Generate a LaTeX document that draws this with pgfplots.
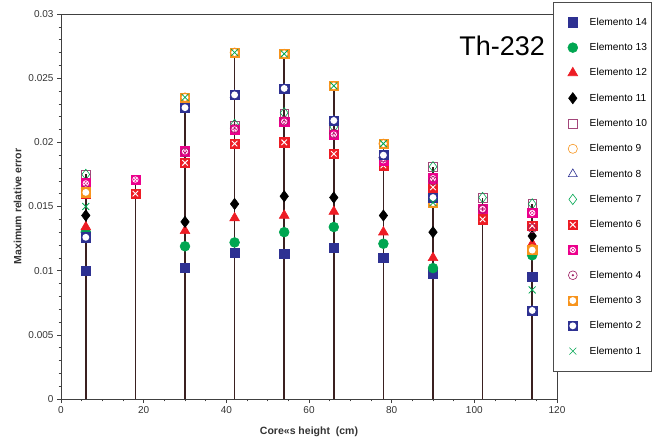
\documentclass[border=0pt]{standalone}
\usepackage{pgfplots}
\pgfplotsset{compat=1.18}
\usepackage{fontspec}
\setmainfont{Liberation Sans}
\setsansfont{Liberation Sans}
\definecolor{cblue}{HTML}{2E3192}
\definecolor{cgreen}{HTML}{00A651}
\definecolor{cred}{HTML}{ED1C24}
\definecolor{cpurp}{HTML}{A3467A}
\definecolor{corange}{HTML}{F7941D}
\definecolor{cmag}{HTML}{EC008C}
\definecolor{cplum}{HTML}{9E1F63}
\definecolor{cstem}{HTML}{3A2020}
\pgfdeclareplotmark{sqX}{%
 \pgfpathrectangle{\pgfqpoint{-\pgfplotmarksize}{-\pgfplotmarksize}}{\pgfqpoint{2\pgfplotmarksize}{2\pgfplotmarksize}}%
 \pgfusepathqfillstroke
 \pgfscope\pgfsetstrokecolor{white}\pgfsetlinewidth{0.9pt}%
 \pgfpathmoveto{\pgfqpoint{-.6\pgfplotmarksize}{-.6\pgfplotmarksize}}%
 \pgfpathlineto{\pgfqpoint{.6\pgfplotmarksize}{.6\pgfplotmarksize}}%
 \pgfpathmoveto{\pgfqpoint{-.6\pgfplotmarksize}{.6\pgfplotmarksize}}%
 \pgfpathlineto{\pgfqpoint{.6\pgfplotmarksize}{-.6\pgfplotmarksize}}%
 \pgfusepathqstroke\endpgfscope}
\pgfdeclareplotmark{sqO}{%
 \pgfpathrectangle{\pgfqpoint{-\pgfplotmarksize}{-\pgfplotmarksize}}{\pgfqpoint{2\pgfplotmarksize}{2\pgfplotmarksize}}%
 \pgfusepathqfillstroke
 \pgfscope\pgfsetfillcolor{white}%
 \pgfpathcircle{\pgfpointorigin}{.75\pgfplotmarksize}%
 \pgfusepathqfill\endpgfscope}
\pgfdeclareplotmark{sqOX}{%
 \pgfpathrectangle{\pgfqpoint{-\pgfplotmarksize}{-\pgfplotmarksize}}{\pgfqpoint{2\pgfplotmarksize}{2\pgfplotmarksize}}%
 \pgfusepathqfillstroke
 \pgfscope\pgfsetstrokecolor{white}\pgfsetlinewidth{0.7pt}%
 \pgfpathcircle{\pgfpointorigin}{.6\pgfplotmarksize}%
 \pgfpathmoveto{\pgfqpoint{-.35\pgfplotmarksize}{-.35\pgfplotmarksize}}%
 \pgfpathlineto{\pgfqpoint{.35\pgfplotmarksize}{.35\pgfplotmarksize}}%
 \pgfpathmoveto{\pgfqpoint{-.35\pgfplotmarksize}{.35\pgfplotmarksize}}%
 \pgfpathlineto{\pgfqpoint{.35\pgfplotmarksize}{-.35\pgfplotmarksize}}%
 \pgfusepathqstroke\endpgfscope}
\pgfdeclareplotmark{odot}{%
 \pgfpathcircle{\pgfpointorigin}{\pgfplotmarksize}%
 \pgfusepathqstroke
 \pgfpathcircle{\pgfpointorigin}{.28\pgfplotmarksize}%
 \pgfusepathqfill}
\begin{document}
\begin{tikzpicture}
\begin{axis}[
  width=496pt, height=385pt, scale only axis,
  xmin=0, xmax=120, ymin=0, ymax=0.03,
  xtick={0,20,40,60,80,100,120},
  ytick={0,0.005,0.01,0.015,0.02,0.025,0.03},
  minor x tick num=3, minor y tick num=4,
  tick align=outside, tick pos=left,
  major tick length=4pt, minor tick length=2.5pt,
  scaled y ticks=false,
  yticklabel style={/pgf/number format/fixed, /pgf/number format/precision=3},
  /pgf/number format/assume math mode=true,
  tick label style={font=\fontsize{10}{12}\selectfont, text=black!80},
  axis line style={black!75, line width=0.8pt},
  every tick/.style={black!75, line width=0.6pt},
  xlabel={Core«s height\ \ (cm)},
  ylabel={Maximum relative error},
  label style={font=\fontsize{10.5}{12}\selectfont\bfseries, text=black!80},
  xlabel style={yshift=-6pt},
  legend style={at={(1,1)}, anchor=north west, xshift=-4pt, yshift=12pt,
    draw=black!70, line width=0.8pt, font=\fontsize{10.2}{12}\selectfont,
    row sep=12.4pt, inner xsep=3pt, inner ysep=13.5pt,
    nodes={inner xsep=1.5pt}},
  legend cell align=left,
  legend image code/.code={\path (0pt,-1pt) (31pt,1pt);
    \draw[mark repeat=2,mark phase=2,line width=0.6pt] plot coordinates {(0pt,0pt) (16pt,0pt) (32pt,0pt)};},
  mk/.style={only marks, line width=0.6pt},
]
% stems
\addplot[ycomb, no marks, draw=cstem, line width=1.5pt, forget plot] coordinates {
(6,0.0175) (18,0.0171) (30,0.0235) (42,0.0270) (54,0.0269) (66,0.0244) (78,0.0199) (90,0.0181) (102,0.0157) (114,0.0152)};
% Elemento 14
\addplot[mk, mark=square*, mark size=4.7pt, draw=cblue, fill=cblue] coordinates {
(6,0.0100) (30,0.0102) (42,0.0114) (54,0.0113) (66,0.0118) (78,0.0110) (90,0.0098) (114,0.0095)};
\addlegendentry{Elemento 14}
% Elemento 13
\addplot[mk, mark=*, mark size=4.9pt, draw=cgreen, fill=cgreen] coordinates {
(6,0.0130) (30,0.0119) (42,0.0122) (54,0.0130) (66,0.0134) (78,0.0121) (90,0.0102) (114,0.0112)};
\addlegendentry{Elemento 13}
% Elemento 12
\addplot[mk, mark=triangle*, mark size=5.6pt, draw=cred, fill=cred] coordinates {
(6,0.0134) (30,0.0131) (42,0.0141) (54,0.0143) (66,0.0146) (78,0.0130) (90,0.0110) (114,0.0121)};
\addlegendentry{Elemento 12}
% Elemento 11
\addplot[mk, mark=diamond*, mark size=5.6pt, draw=black, fill=black] coordinates {
(6,0.0143) (30,0.0138) (42,0.0152) (54,0.0158) (66,0.0157) (78,0.0143) (90,0.0130) (114,0.0127)};
\addlegendentry{Elemento 11}
% Elemento 10
\addplot[mk, mark=square, mark size=4.4pt, draw=cpurp] coordinates {
(6,0.0175) (30,0.0193) (42,0.0213) (54,0.0222) (66,0.0213) (78,0.0185) (90,0.0181) (102,0.0157) (114,0.0152)};
\addlegendentry{Elemento 10}
% Elemento 9
\addplot[mk, mark=o, mark size=4.6pt, draw=corange] coordinates {
(6,0.0164) (30,0.0235) (42,0.0270) (54,0.0269) (66,0.0244) (78,0.0199) (90,0.0153) (114,0.0117)};
\addlegendentry{Elemento 9}
% Elemento 8
\addplot[mk, mark=triangle, mark size=5.2pt, draw=cblue] coordinates {
(6,0.0126) (30,0.0227) (42,0.0237) (54,0.0242) (66,0.0217) (78,0.0190) (90,0.0157) (114,0.0069)};
\addlegendentry{Elemento 8}
% Elemento 7
\addplot[mk, mark=diamond, mark size=5.2pt, draw=cgreen] coordinates {
(6,0.0175) (30,0.0193) (42,0.0214) (54,0.0223) (66,0.0212) (78,0.0190) (90,0.0181) (102,0.0157) (114,0.0152)};
\addlegendentry{Elemento 7}
% Elemento 6
\addplot[mk, mark=sqX, mark size=4.6pt, draw=cred, fill=cred] coordinates {
(6,0.0160) (18,0.0160) (30,0.0184) (42,0.0199) (54,0.0200) (66,0.0191) (78,0.0182) (90,0.0165) (102,0.0140) (114,0.0135)};
\addlegendentry{Elemento 6}
% Elemento 5
\addplot[mk, mark=sqOX, mark size=4.6pt, draw=cmag, fill=cmag] coordinates {
(6,0.0168) (18,0.0171) (30,0.0193) (42,0.0210) (54,0.0216) (66,0.0206) (78,0.0186) (90,0.0172) (102,0.0148) (114,0.0145)};
\addlegendentry{Elemento 5}
% Elemento 4
\addplot[mk, mark=odot, mark size=4.4pt, draw=cplum, fill=cplum] coordinates {
(6,0.0163) (30,0.0192) (42,0.0211) (54,0.0217) (66,0.0207) (78,0.0188) (90,0.0170) (102,0.0148) (114,0.0133)};
\addlegendentry{Elemento 4}
% Elemento 3
\addplot[mk, mark=sqO, mark size=4.6pt, draw=corange, fill=corange] coordinates {
(6,0.0161) (30,0.0235) (42,0.0270) (54,0.0269) (66,0.0244) (78,0.0199) (90,0.0153) (114,0.0116)};
\addlegendentry{Elemento 3}
% Elemento 2
\addplot[mk, mark=sqO, mark size=4.6pt, draw=cblue, fill=cblue] coordinates {
(6,0.0126) (30,0.0227) (42,0.0237) (54,0.0242) (66,0.0217) (78,0.0190) (90,0.0157) (114,0.0069)};
\addlegendentry{Elemento 2}
% Elemento 1
\addplot[mk, mark=x, mark size=4.9pt, draw=cgreen, line width=0.8pt] coordinates {
(6,0.0150) (30,0.0235) (42,0.0270) (54,0.0269) (66,0.0244) (78,0.0199) (90,0.0153) (114,0.0085)};
\addlegendentry{Elemento 1}
\node[anchor=east, font=\fontsize{27}{30}\selectfont, inner sep=0pt] at (rel axis cs:0.976,0.917) {Th-232};
\end{axis}
\pgfresetboundingbox
\path (-61pt,-47pt) rectangle (591pt,399pt);
\end{tikzpicture}
\end{document}
